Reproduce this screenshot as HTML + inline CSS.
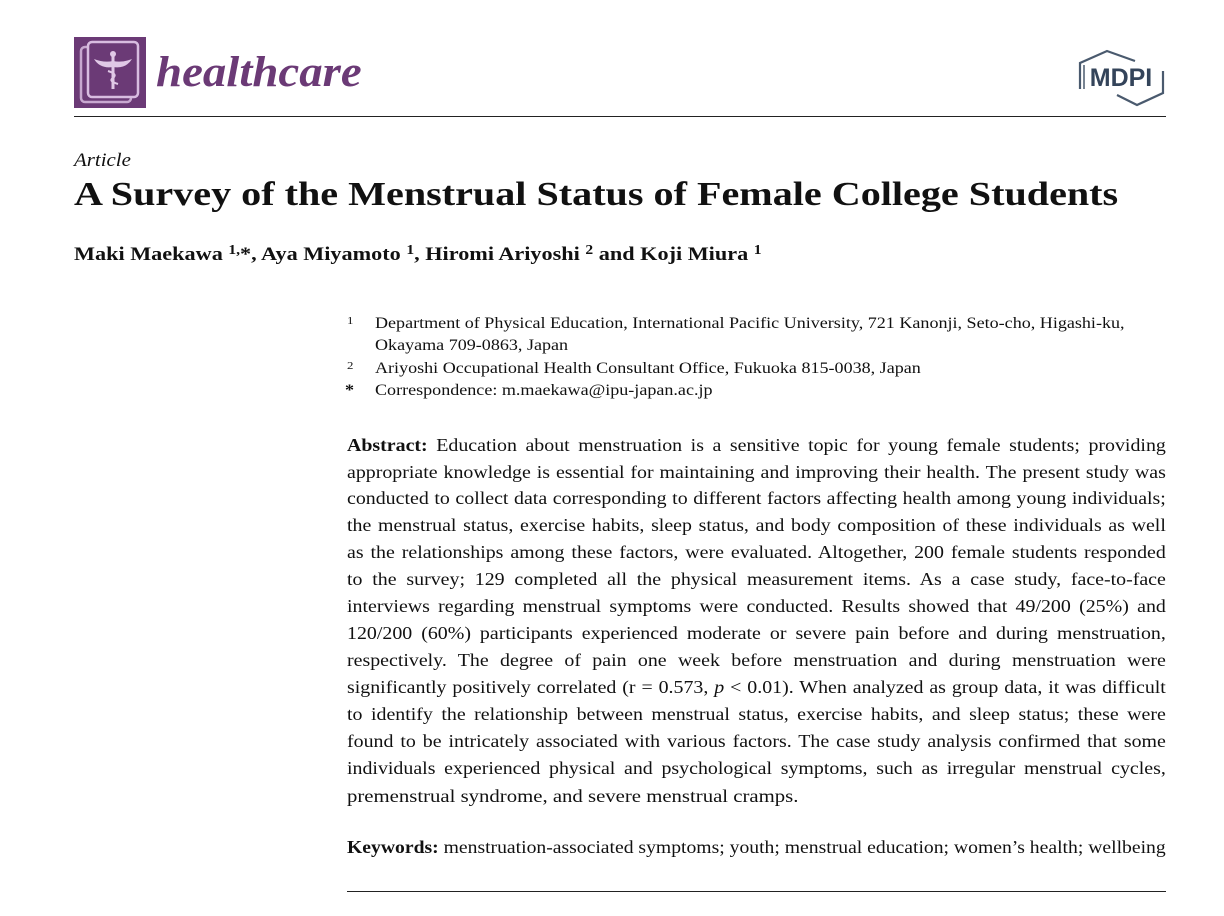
<!DOCTYPE html>
<html><head><meta charset="utf-8"><style>
body{margin:0;width:1224px;height:916px;background:#fff;position:relative;overflow:hidden;font-family:"Liberation Serif",serif;color:#111}
.a{position:absolute;white-space:nowrap;transform-origin:0 0}
.j{position:absolute;left:347px;width:724px;font-size:17.6px;line-height:22px;text-align:justify;text-align-last:justify;white-space:nowrap;transform:scaleX(1.131);transform-origin:0 0}
.j.l{text-align-last:left}
.f{font-size:15.5px;line-height:20px;transform:scaleX(1.165)}
sup{font-size:70%;vertical-align:6px;line-height:0}
</style></head><body>
<svg class="a" style="left:74px;top:37px" width="72" height="71" viewBox="0 0 72 71">
<rect width="72" height="71" fill="#6b3a76"/>
<rect x="7" y="10" width="50" height="55" rx="4" fill="none" stroke="#c8a8d0" stroke-width="2.5"/>
<rect x="14" y="5" width="50" height="55" rx="4" fill="#6b3a76" stroke="#d8bce0" stroke-width="2.5"/>
<path d="M20 22 Q30 26 39 24 Q48 26 58 22 Q52 32 39 30 Q26 32 20 22Z" fill="#e0c8e6"/>
<rect x="37.5" y="18" width="3" height="34" fill="#e0c8e6"/>
<circle cx="39" cy="17" r="3" fill="#e0c8e6"/>
<path d="M34 34 Q44 37 39 41 Q34 44 44 47" stroke="#e0c8e6" stroke-width="2" fill="none"/>
</svg>
<div class="a" style="left:156px;top:48px;font-size:43px;font-weight:bold;font-style:italic;color:#6b3a76;line-height:50px;transform:scaleX(1.09)">healthcare</div>
<svg class="a" style="left:1077px;top:49px" width="89" height="58" viewBox="0 0 89 58">
<path d="M3 40 V14 L30 2 L58 12" stroke="#4a5a6e" stroke-width="2.2" fill="none"/>
<path d="M7 40 V16" stroke="#4a5a6e" stroke-width="1.5"/>
<path d="M86 22 V44 L60 56 L40 46" stroke="#4a5a6e" stroke-width="2.2" fill="none"/>
<text x="44" y="37" text-anchor="middle" font-family="Liberation Sans" font-weight="bold" font-size="25" fill="#34445a">MDPI</text>
</svg>
<div class="a" style="left:74px;top:116px;width:1092px;height:1px;background:#222"></div>
<div class="a" style="left:74px;top:149px;font-size:19px;font-style:italic;line-height:24px;transform:scaleX(1.1)">Article</div>
<div class="a" style="left:74px;top:174px;font-size:34px;font-weight:bold;line-height:42px;transform:scaleX(1.18)">A Survey of the Menstrual Status of Female College Students</div>
<div class="a" style="left:74px;top:242px;font-size:19px;font-weight:bold;line-height:26px;transform:scaleX(1.17)">Maki Maekawa <sup>1,</sup>*, Aya Miyamoto <sup>1</sup>, Hiromi Ariyoshi <sup>2</sup> and Koji Miura <sup>1</sup></div>
<div class="a f" style="left:347px;top:311px;font-size:11px">1</div>
<div class="a f" style="left:375px;top:314px">Department of Physical Education, International Pacific University, 721 Kanonji, Seto-cho, Higashi-ku,</div>
<div class="a f" style="left:375px;top:336px">Okayama 709-0863, Japan</div>
<div class="a f" style="left:347px;top:356px;font-size:11px">2</div>
<div class="a f" style="left:375px;top:359px">Ariyoshi Occupational Health Consultant Office, Fukuoka 815-0038, Japan</div>
<div class="a f" style="left:345px;top:381px;font-weight:bold">*</div>
<div class="a f" style="left:375px;top:381px">Correspondence: m.maekawa@ipu-japan.ac.jp</div>
<div class="j" style="top:434px"><b>Abstract:</b> Education about menstruation is a sensitive topic for young female students; providing</div>
<div class="j" style="top:461px">appropriate knowledge is essential for maintaining and improving their health. The present study was</div>
<div class="j" style="top:487px">conducted to collect data corresponding to different factors affecting health among young individuals;</div>
<div class="j" style="top:514px">the menstrual status, exercise habits, sleep status, and body composition of these individuals as well</div>
<div class="j" style="top:541px">as the relationships among these factors, were evaluated. Altogether, 200 female students responded</div>
<div class="j" style="top:568px">to the survey; 129 completed all the physical measurement items. As a case study, face-to-face</div>
<div class="j" style="top:595px">interviews regarding menstrual symptoms were conducted. Results showed that 49/200 (25%) and</div>
<div class="j" style="top:622px">120/200 (60%) participants experienced moderate or severe pain before and during menstruation,</div>
<div class="j" style="top:649px">respectively. The degree of pain one week before menstruation and during menstruation were</div>
<div class="j" style="top:676px">significantly positively correlated (r = 0.573, <i>p</i> &lt; 0.01). When analyzed as group data, it was difficult</div>
<div class="j" style="top:703px">to identify the relationship between menstrual status, exercise habits, and sleep status; these were</div>
<div class="j" style="top:730px">found to be intricately associated with various factors. The case study analysis confirmed that some</div>
<div class="j" style="top:757px">individuals experienced physical and psychological symptoms, such as irregular menstrual cycles,</div>
<div class="j l" style="top:785px;transform:scaleX(1.18)">premenstrual syndrome, and severe menstrual cramps.</div>
<div class="j l" style="top:836px;transform:scaleX(1.117)"><b>Keywords:</b> menstruation-associated symptoms; youth; menstrual education; women’s health; wellbeing</div>
<div class="a" style="left:347px;top:891px;width:819px;height:1px;background:#222"></div>
</body></html>
